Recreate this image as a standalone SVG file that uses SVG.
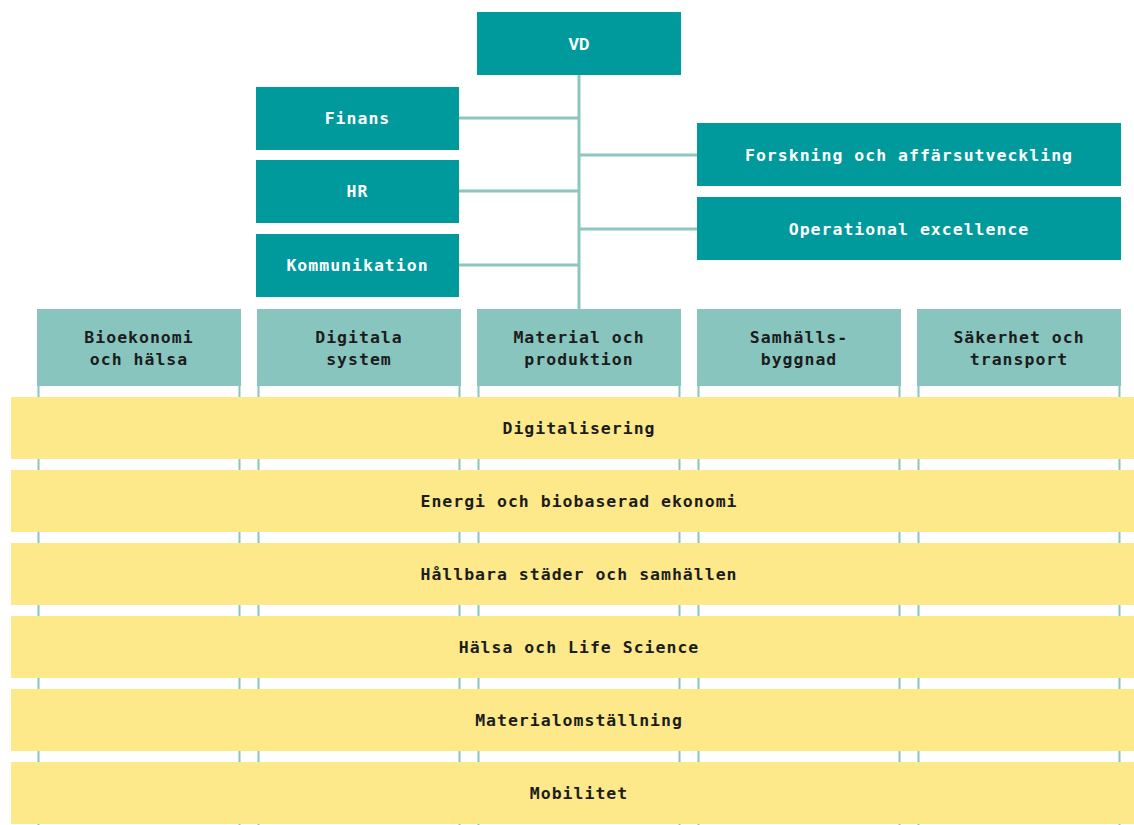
<svg xmlns="http://www.w3.org/2000/svg" width="1134" height="825" viewBox="0 0 1134 825">
<style>
.dark{fill:#019a9c}
.light{fill:#88c5bf}
.bar{fill:#fde98a}
.side{stroke:#88c5bf;stroke-width:2;fill:none}
.conn{stroke:#8cc6c0;stroke-width:3;fill:none}
.mono{font-family:"DejaVu Sans Mono","Liberation Mono",monospace;font-weight:bold;font-size:16.5px;letter-spacing:1px;text-anchor:middle}
.w{fill:#ffffff}
.k{fill:#1c1c1c}
</style>
<rect width="1134" height="825" fill="#ffffff"/>
<g id="connectors">
<line class="conn" x1="579" y1="75" x2="579" y2="309"/>
<line class="conn" x1="459" y1="118" x2="579" y2="118"/>
<line class="conn" x1="459" y1="191" x2="579" y2="191"/>
<line class="conn" x1="459" y1="265" x2="579" y2="265"/>
<line class="conn" x1="579" y1="155" x2="697" y2="155"/>
<line class="conn" x1="579" y1="229" x2="697" y2="229"/>
</g>
<g id="vd"><rect class="dark" x="477" y="12" width="204" height="63"/><text x="579" y="50" text-anchor="middle" font-family="Roboto,'Liberation Sans',sans-serif" font-weight="bold" font-size="16" fill="#ffffff">VD</text></g>
<g id="finans"><rect class="dark" x="256" y="87" width="203" height="63"/><text class="mono w" x="357.5" y="124">Finans</text></g>
<g id="hr"><rect class="dark" x="256" y="160" width="203" height="63"/><text class="mono w" x="357.5" y="197">HR</text></g>
<g id="kommunikation"><rect class="dark" x="256" y="234" width="203" height="63"/><text class="mono w" x="357.5" y="271">Kommunikation</text></g>
<g id="forskning"><rect class="dark" x="697" y="123" width="424" height="63"/><text class="mono w" x="909" y="161">Forskning och affärsutveckling</text></g>
<g id="operational"><rect class="dark" x="697" y="197" width="424" height="63"/><text class="mono w" x="909" y="235">Operational excellence</text></g>

<g id="col-bioekonomi"><rect class="light" x="37" y="309" width="204" height="77"/><line class="side" x1="38.5" y1="386" x2="38.5" y2="825"/><line class="side" x1="239.5" y1="386" x2="239.5" y2="825"/><text class="mono k" x="139" y="343">Bioekonomi</text><text class="mono k" x="139" y="365">och hälsa</text></g>
<g id="col-digitala"><rect class="light" x="257" y="309" width="204" height="77"/><line class="side" x1="258.5" y1="386" x2="258.5" y2="825"/><line class="side" x1="459.5" y1="386" x2="459.5" y2="825"/><text class="mono k" x="359" y="343">Digitala</text><text class="mono k" x="359" y="365">system</text></g>
<g id="col-material"><rect class="light" x="477" y="309" width="204" height="77"/><line class="side" x1="478.5" y1="386" x2="478.5" y2="825"/><line class="side" x1="679.5" y1="386" x2="679.5" y2="825"/><text class="mono k" x="579" y="343">Material och</text><text class="mono k" x="579" y="365">produktion</text></g>
<g id="col-samhalls"><rect class="light" x="697" y="309" width="204" height="77"/><line class="side" x1="698.5" y1="386" x2="698.5" y2="825"/><line class="side" x1="899.5" y1="386" x2="899.5" y2="825"/><text class="mono k" x="799" y="343">Samhälls-</text><text class="mono k" x="799" y="365">byggnad</text></g>
<g id="col-sakerhet"><rect class="light" x="917" y="309" width="204" height="77"/><line class="side" x1="918.5" y1="386" x2="918.5" y2="825"/><line class="side" x1="1119.5" y1="386" x2="1119.5" y2="825"/><text class="mono k" x="1019" y="343">Säkerhet och</text><text class="mono k" x="1019" y="365">transport</text></g>

<g id="bar-digitalisering"><rect class="bar" x="11" y="397" width="1123" height="62"/><text class="mono k" x="579" y="434">Digitalisering</text></g>
<g id="bar-energi"><rect class="bar" x="11" y="470" width="1123" height="62"/><text class="mono k" x="579" y="507">Energi och biobaserad ekonomi</text></g>
<g id="bar-hallbara"><rect class="bar" x="11" y="543" width="1123" height="62"/><text class="mono k" x="579" y="580">Hållbara städer och samhällen</text></g>
<g id="bar-halsa"><rect class="bar" x="11" y="616" width="1123" height="62"/><text class="mono k" x="579" y="653">Hälsa och Life Science</text></g>
<g id="bar-material"><rect class="bar" x="11" y="689" width="1123" height="62"/><text class="mono k" x="579" y="726">Materialomställning</text></g>
<g id="bar-mobilitet"><rect class="bar" x="11" y="762" width="1123" height="62"/><text class="mono k" x="579" y="799">Mobilitet</text></g>
</svg>
